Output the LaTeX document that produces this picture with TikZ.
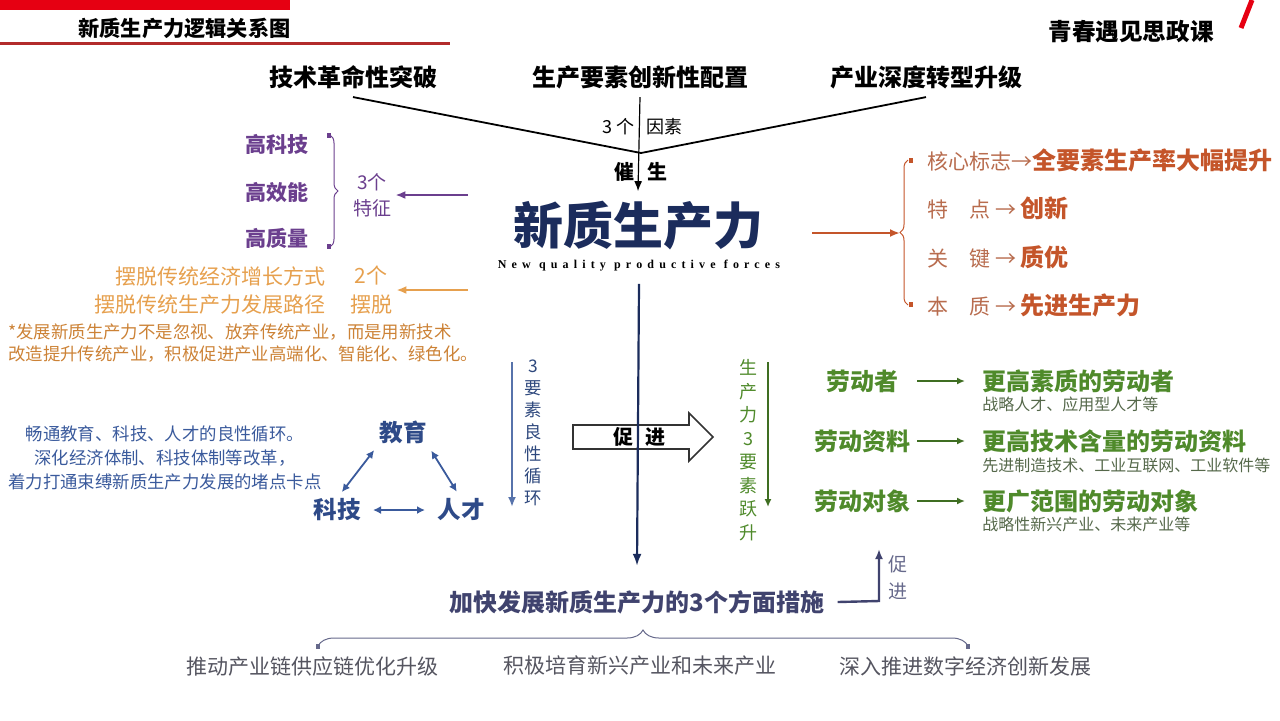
\documentclass[tikz,border=0pt]{standalone}
\usepackage{fontspec}
\setmainfont{Noto Sans CJK SC}
\newfontfamily\enfont[LetterSpace=43]{Liberation Serif}
\usetikzlibrary{arrows.meta,decorations.pathreplacing}

\definecolor{hdred}{HTML}{E60012}
\definecolor{hdline}{HTML}{B22B2B}
\definecolor{navy}{HTML}{1B2C5C}
\definecolor{purp}{HTML}{6B3F8E}
\definecolor{lorange}{HTML}{E6A04E}
\definecolor{dorange}{HTML}{CC8236}
\definecolor{rust}{HTML}{C4552A}
\definecolor{rustlt}{HTML}{B86C4E}
\definecolor{bluet}{HTML}{3A5A9C}
\definecolor{blueb}{HTML}{2E4A88}
\definecolor{greent}{HTML}{4F8A2B}
\definecolor{greens}{HTML}{55684A}
\definecolor{slate}{HTML}{40436E}
\definecolor{grayt}{HTML}{555560}

\newcommand{\fsz}[2]{\fontsize{#1}{#2}\selectfont}

\tikzset{
  txt/.style={inner sep=0pt},
  factor/.style={txt, font=\fsz{12}{14}\bfseries},
  mainword/.style={txt, text=navy, font=\fsz{25}{28}\bfseries},
  purpb/.style={txt, text=purp, font=\fsz{10.5}{13}\bfseries},
  purpn/.style={txt, text=purp, font=\fsz{9.5}{13}, align=center},
  orangen/.style={txt, text=lorange, font=\fsz{10.5}{14.5}},
  rustn/.style={txt, text=rustlt, font=\fsz{10.5}{13}, anchor=west},
  bluen/.style={txt, text=bluet, font=\fsz{8.7}{12}, align=center},
  blueb/.style={txt, text=blueb, font=\fsz{11.8}{14}\bfseries},
  stack/.style={txt, align=center, font=\fsz{8.7}{11}},
  greenb/.style={txt, text=greent, font=\fsz{12}{14}\bfseries},
  greensm/.style={txt, text=greens, font=\fsz{8}{10}, anchor=west},
  graym/.style={txt, text=grayt, font=\fsz{10.5}{13}},
  tipline/.style={line width=0.6pt, -{Latex[length=5pt,width=4pt]}},
  twoway/.style={bluet, line width=0.9pt, {Latex[length=4pt,width=4pt]}-{Latex[length=4pt,width=4pt]}, shorten <=4pt, shorten >=4pt},
  greenarrow/.style={greent!80!black, line width=0.9pt, -{Latex[length=4pt,width=3.5pt]}},
  bracet/.style={decorate, line width=0.5pt}
}

\begin{document}
\begin{tikzpicture}[x=0.5pt,y=-0.5pt]
\useasboundingbox (0,0) rectangle (1280,720);

% header
\fill[hdred] (0,0) rectangle (290,10);
\draw[hdline, line width=1.5pt] (0,43) -- (450,43);
\node[txt, anchor=west, font=\fsz{10.6}{13}\bfseries] (title) at (78,28) {新质生产力逻辑关系图};
\node[txt, font=\fsz{11.8}{14}\bfseries] (brand) at (1131,32) {青春遇见思政课};
\draw[hdred, line width=2.5pt] (1252,0) -- (1241,28);

% three factors
\node[factor] (tech) at (353,77) {技术革命性突破};
\node[factor] (elem) at (640,77) {生产要素创新性配置};
\node[factor] (indu) at (926,77) {产业深度转型升级};
\coordinate (meet) at (641,153);
\draw[line width=0.9pt] ([yshift=-4pt]tech.south) -- (meet);
\draw[line width=0.9pt] ([yshift=-4pt]indu.south) -- (meet);
\node[txt, anchor=east, font=\fsz{9}{11}] (three) at (635,127) {3 个};
\node[txt, anchor=west, font=\fsz{9}{11}] (yinsu) at (646,127) {因素};
\node[txt, anchor=east, font=\fsz{10}{12}\bfseries] (cui) at (635,172) {催};
\node[txt, anchor=west, font=\fsz{10}{12}\bfseries] (sheng) at (647,172) {生};

% core
\node[mainword] (core) at (638,226) {新质生产力};
\node[txt, font=\fsz{6}{7}\enfont\bfseries] (en) at (639,266) {New quality productive forces};
\draw[tipline] ([yshift=-4pt]elem.south) -- ([yshift=5pt]core.north);

% three features
\node[purpb] (gkj) at (277,144) {高科技};
\node[purpb] (gxn) at (277,192) {高效能};
\node[purpb] (gzl) at (277,238) {高质量};
\draw[purp, bracet, decoration={brace, amplitude=4pt}] (330,135) -- (330,247);
\fill[purp] (327,133) rectangle (331,138);
\fill[purp] (327,244) rectangle (331,249);
\node[purpn] (tezheng) at (372,195) {3个\\特征};
\coordinate (pfrom) at (468,195);
\draw[purp, line width=1pt, -{Latex[length=5pt,width=4pt]}] (pfrom) -- ([xshift=2pt]tezheng.east);

% break away
\node[orangen, anchor=east] (way1) at (326,276) {摆脱传统经济增长方式};
\node[orangen, anchor=east] (way2) at (326,305) {摆脱传统生产力发展路径};
\node[orangen, align=center] (baituo) at (371,290) {2个\\摆脱};
\coordinate (ofrom) at (468,290);
\draw[lorange, line width=1pt, -{Latex[length=5pt,width=4pt]}] (ofrom) -- ([xshift=2pt]baituo.east);
\node[txt, anchor=west, align=left, text=dorange, font=\fsz{8.7}{11}] (note) at (8,343) {*发展新质生产力不是忽视、放弃传统产业，而是用新技术\\改造提升传统产业，积极促进产业高端化、智能化、绿色化。};

% four aspects
\coordinate (rfrom) at (812,233);
\coordinate (rtip) at (900,233);
\draw[rust, line width=1pt, -{Latex[length=5pt,width=4pt]}] (rfrom) -- (rtip);
\draw[rust, bracet, decoration={brace, amplitude=4pt}] (908,305) -- (908,160);
\fill[rust] (909,158) rectangle (913,163);
\fill[rust] (909,302) rectangle (913,307);
\node[rustn] (mark) at (927,160) {核心标志→\textcolor{rust}{\fsz{12}{14}\bfseries 全要素生产率大幅提升}};
\node[rustn] (feat) at (927,208) {特　点 → \textcolor{rust}{\fsz{12}{14}\bfseries 创新}};
\node[rustn] (key) at (927,257) {关　键 → \textcolor{rust}{\fsz{12}{14}\bfseries 质优}};
\node[rustn] (ess) at (927,305) {本　质 → \textcolor{rust}{\fsz{12}{14}\bfseries 先进生产力}};

% education cycle
\node[bluen] (bnote) at (165,458) {畅通教育、科技、人才的良性循环。\\深化经济体制、科技体制等改革，\\着力打通束缚新质生产力发展的堵点卡点};
\node[blueb] (jy) at (403,432) {教育};
\node[blueb] (kj) at (337,510) {科技};
\node[blueb] (rc) at (461,510) {人才};
\draw[twoway] (jy.south west) -- (kj.north);
\draw[twoway] (jy.south east) -- (rc.north);
\draw[twoway, shorten <=6pt, shorten >=6pt] (kj.east) -- (rc.west);
\coordinate (bv1) at (512,362);
\coordinate (bv2) at (512,507);
\draw[bluet!85, line width=1pt, -{Latex[length=5pt,width=4pt]}] (bv1) -- (bv2);
\node[stack, text=bluet!80!black] (loop) at (533,433) {3\\要\\素\\良\\性\\循\\环};

% promote arrow
\draw[fill=white, draw=black!80, line width=0.8pt] (573,425) -- (689,425) -- (689,413) -- (713,437) -- (689,461) -- (689,449) -- (573,449) -- cycle;
\node[txt, font=\fsz{10}{12}\bfseries] (cu) at (623,437) {促};
\node[txt, font=\fsz{10}{12}\bfseries] (jin) at (655,437) {进};

% measures
\node[txt, text=slate, font=\fsz{12}{14}\bfseries] (measures) at (637,602) {加快发展新质生产力的3个方面措施};
\draw[navy, line width=1.1pt, -{Latex[length=6pt,width=4.5pt]}] ([yshift=-6pt]en.south) -- ([yshift=12pt]measures.north);

% labour elements
\node[stack, text=greent, font=\fsz{9}{11.75}] (leap) at (748,450) {生\\产\\力\\3\\要\\素\\跃\\升};
\coordinate (gv1) at (768,362);
\coordinate (gv2) at (768,507);
\draw[greenarrow, line width=1.1pt] (gv1) -- (gv2);
\node[greenb] (ldz) at (862,381) {劳动者};
\node[greenb] (ldzl) at (862,441) {劳动资料};
\node[greenb] (lddx) at (862,501) {劳动对象};
\node[greenb, anchor=west] (ldz2) at (982,381) {更高素质的劳动者};
\node[greenb, anchor=west] (ldzl2) at (982,441) {更高技术含量的劳动资料};
\node[greenb, anchor=west] (lddx2) at (982,501) {更广范围的劳动对象};
\node[greensm] (ldz3) at (982,404) {战略人才、应用型人才等};
\node[greensm] (ldzl3) at (982,465) {先进制造技术、工业互联网、工业软件等};
\node[greensm] (lddx3) at (982,524) {战略性新兴产业、未来产业等};
\draw[greenarrow] ([xshift=3.5pt]ldzl.east |- ldz.east) -- ([xshift=-8.5pt]ldz2.west);
\draw[greenarrow] ([xshift=3.5pt]ldzl.east) -- ([xshift=-8.5pt]ldzl2.west);
\draw[greenarrow] ([xshift=3.5pt]ldzl.east |- lddx.east) -- ([xshift=-8.5pt]lddx2.west);

% feedback
\coordinate (turn) at (879,601);
\coordinate (uptip) at (879,549);
\draw[slate, line width=1.2pt, -{Latex[length=5pt,width=4pt]}] ([xshift=6.5pt]measures.east) -- (turn) -- (uptip);
\node[txt, text=slate!80, align=center, font=\fsz{9.5}{13.5}] (cujin) at (898,578) {促\\进};

% three measures
\draw[slate!80, bracet, decoration={brace, amplitude=8pt}] (318,646) -- (968,646);
\fill[slate!80] (316,644) rectangle (320,649);
\fill[slate!80] (966,644) rectangle (970,649);
\node[graym] (m1) at (312,666) {推动产业链供应链优化升级};
\node[graym] (m2) at (640,666) {积极培育新兴产业和未来产业};
\node[graym] (m3) at (965,666) {深入推进数字经济创新发展};

\end{tikzpicture}
\end{document}
